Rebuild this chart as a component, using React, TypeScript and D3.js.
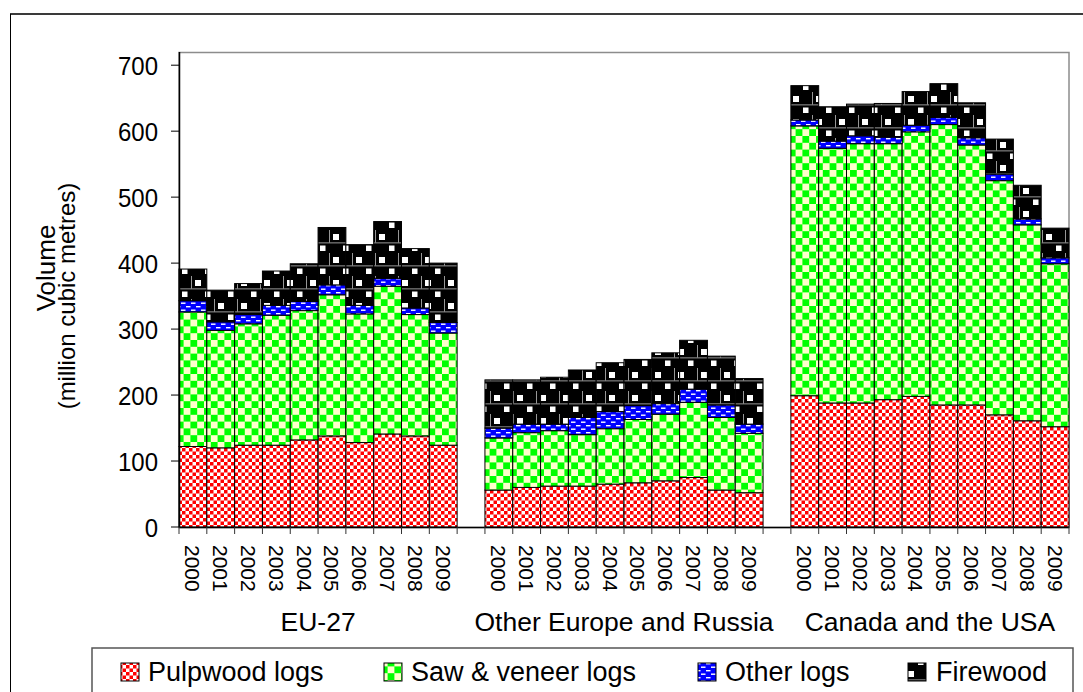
import React from "react";
import * as d3 from "d3";

const groups = ["EU-27", "Other Europe and Russia", "Canada and the USA"];
const years = ["2000", "2001", "2002", "2003", "2004", "2005", "2006", "2007", "2008", "2009"];
const seriesNames = ["Pulpwood logs", "Saw & veneer logs", "Other logs", "Firewood"];

// values per group, per year (million cubic metres)
const pulpwood = [
  [122, 120, 124, 124, 132, 138, 128, 141, 138, 124],
  [56, 60, 62, 62, 65, 67, 70, 75, 56, 52],
  [199, 188, 188, 193, 198, 185, 185, 170, 161, 152],
];
const sawVeneer = [
  [204, 178, 184, 197, 196, 214, 195, 224, 184, 170],
  [79, 83, 84, 78, 84, 96, 101, 114, 110, 90],
  [409, 386, 393, 388, 401, 425, 394, 355, 297, 247],
];
const otherLogs = [
  [17, 13, 14, 15, 14, 15, 13, 12, 10, 16],
  [15, 13, 10, 26, 26, 21, 16, 20, 19, 14],
  [9, 11, 12, 10, 10, 11, 11, 10, 9, 9],
];
const firewood = [
  [48, 48, 47, 52, 57, 87, 92, 86, 90, 90],
  [73, 67, 71, 72, 74, 70, 77, 74, 74, 69],
  [52, 52, 48, 51, 51, 51, 53, 53, 51, 45],
];
const yTicks = [0, 100, 200, 300, 400, 500, 600, 700];

const patternIds = ["pPulp", "pSaw", "pOther", "pFire"];
const font = "'Liberation Sans', Arial, sans-serif";

export default function App() {
  const W = 1083, H = 692;
  const plotL = 179, plotR = 1069, plotT = 52, plotB = 527;

  const slots: string[] = [];
  groups.forEach((g, gi) => {
    years.forEach((yr) => slots.push(`${gi}-${yr}`));
    if (gi < groups.length - 1) slots.push(`gap-${gi}`);
  });
  const x = d3.scaleBand<string>().domain(slots).range([plotL, plotR]).padding(0);
  const y = d3.scaleLinear().domain([0, 720]).range([plotB, plotT]);

  const rows: any[] = [];
  groups.forEach((g, gi) => {
    years.forEach((yr, yi) => {
      rows.push({
        key: `${gi}-${yr}`,
        s0: pulpwood[gi][yi],
        s1: sawVeneer[gi][yi],
        s2: otherLogs[gi][yi],
        s3: firewood[gi][yi],
      });
    });
  });
  const stack = d3.stack<any>().keys(["s0", "s1", "s2", "s3"]);
  const stacked = stack(rows);

  const bw = x.bandwidth();
  const boundaries = d3.range(slots.length + 1).map((i) => plotL + i * bw);

  const legendItems = [
    { sx: 121, tx: 148 },
    { sx: 384, tx: 411 },
    { sx: 698, tx: 725 },
    { sx: 908, tx: 936 },
  ];

  return (
    <svg width={W} height={H} style={{ position: "absolute", left: 0, top: 0, background: "#fff" }} fontFamily={font}>
      <defs>
        <pattern id="pPulp" patternUnits="userSpaceOnUse" width={7} height={7}>
          <rect width={7} height={7} fill="#fff" />
          <rect width={3.5} height={3.5} fill="#ff0000" />
          <rect x={3.5} y={3.5} width={3.5} height={3.5} fill="#ff0000" />
        </pattern>
        <pattern id="pSaw" patternUnits="userSpaceOnUse" width={13.6} height={13.6}>
          <rect width={13.6} height={13.6} fill="#ffffcc" />
          <rect width={6.8} height={6.8} fill="#00ff00" />
          <rect x={6.8} y={6.8} width={6.8} height={6.8} fill="#00ff00" />
        </pattern>
        <pattern id="pOther" patternUnits="userSpaceOnUse" width={10} height={7}>
          <rect width={10} height={7} fill="#0000ff" />
          <rect x={1} y={1.5} width={4.5} height={1.4} fill="#fff" />
          <rect x={6} y={5} width={4.5} height={1.4} fill="#fff" />
          <rect x={-4} y={5} width={4.5} height={1.4} fill="#fff" />
        </pattern>
        <pattern id="pFire" patternUnits="userSpaceOnUse" width={23} height={23}>
          <rect width={23} height={23} fill="#000" />
          <rect x={11} y={4} width={6} height={6} fill="#fff" />
          <rect x={-2} y={15.5} width={5.5} height={5.5} fill="#fff" />
          <rect x={21} y={15.5} width={5.5} height={5.5} fill="#fff" />
          <rect x={0} y={12.5} width={23} height={0.8} fill="#bdbdbd" />
          <rect x={7} y={0} width={0.8} height={12.5} fill="#bdbdbd" />
        </pattern>
      </defs>

      {/* outer frame */}
      <line x1={10} y1={14} x2={W} y2={14} stroke="#3a3a3a" strokeWidth={2} />
      <line x1={10.5} y1={14} x2={10.5} y2={H} stroke="#000" strokeWidth={1} />

      {/* plot area frame */}
      <rect x={plotL} y={plotT + 0.5} width={plotR - plotL} height={plotB - plotT} fill="none" stroke="#8c8c8c" strokeWidth={1.5} />

      {/* bars */}
      {stacked.map((layer, li) => (
        <g key={li} fill={`url(#${patternIds[li]})`} stroke="#000" strokeWidth={1}>
          {layer.map((d: any) => (
            <rect
              key={d.data.key}
              x={x(d.data.key)!}
              y={y(d[1])}
              width={bw}
              height={y(d[0]) - y(d[1])}
            />
          ))}
        </g>
      ))}

      {/* y axis */}
      <line x1={plotL + 0.5} y1={plotT} x2={plotL + 0.5} y2={plotB} stroke="#000" strokeWidth={1.5} />
      {yTicks.map((t) => (
        <g key={t}>
          <line x1={171} x2={plotL} y1={y(t)} y2={y(t)} stroke="#000" strokeWidth={1} />
          <text transform={`translate(158,${y(t)}) scale(1,1.1)`} dy="0.36em" textAnchor="end" fontSize={24} fill="#000">
            {t}
          </text>
        </g>
      ))}
      <text transform={`translate(55,268) rotate(-90)`} textAnchor="middle" fontSize={26} fill="#000">
        Volume
      </text>
      <text transform={`translate(75,296) rotate(-90)`} textAnchor="middle" fontSize={24} fill="#000">
        (million cubic metres)
      </text>

      {/* x axis */}
      <line x1={plotL} x2={plotR} y1={plotB + 0.5} y2={plotB + 0.5} stroke="#000" strokeWidth={1.5} />
      {boundaries.map((bx, i) => (
        <line key={i} x1={bx} x2={bx} y1={plotB} y2={plotB + 7} stroke="#333" strokeWidth={1} />
      ))}
      {rows.map((r) => {
        const yr = r.key.split("-")[1];
        const cx = x(r.key)! + bw / 2;
        return (
          <text key={r.key} transform={`translate(${cx},545) rotate(90)`} dy="0.36em" fontSize={21} fill="#000">
            {yr}
          </text>
        );
      })}
      {groups.map((g, gi) => {
        const x0 = x(`${gi}-2000`)!;
        const x1 = x(`${gi}-2009`)! + bw;
        return (
          <text key={g} x={(x0 + x1) / 2} y={631} textAnchor="middle" fontSize={26.5} fill="#000">
            {g}
          </text>
        );
      })}

      {/* legend */}
      <rect x={92} y={648} width={981} height={60} fill="#fff" stroke="#555" strokeWidth={1.5} />
      {seriesNames.map((n, i) => (
        <g key={n}>
          <rect x={legendItems[i].sx} y={663} width={18} height={18} fill={`url(#${patternIds[i]})`} stroke="#000" strokeWidth={1} />
          <text x={legendItems[i].tx} y={681} fontSize={27} fill="#000">
            {n}
          </text>
        </g>
      ))}
    </svg>
  );
}
